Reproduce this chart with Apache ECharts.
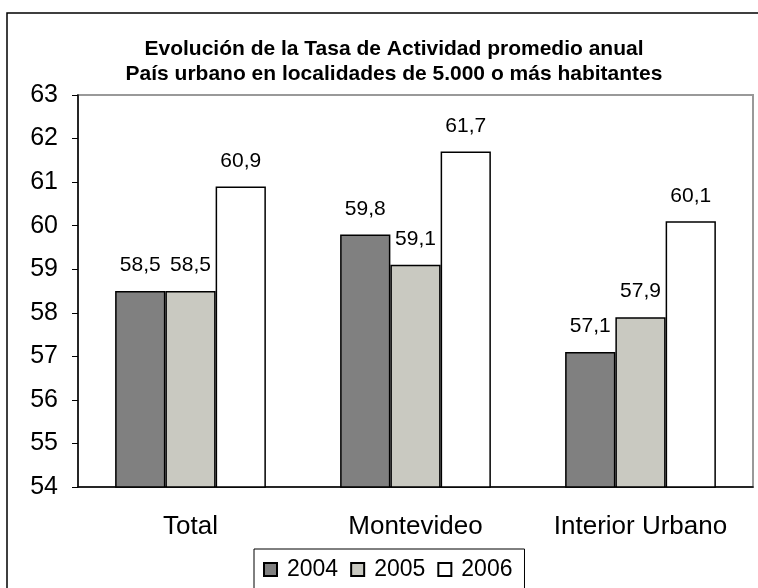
<!DOCTYPE html>
<html>
<head>
<meta charset="utf-8">
<script src="https://cdn.jsdelivr.net/npm/echarts@6/dist/echarts.min.js"></script>
<style>
  html, body { margin: 0; padding: 0; background: #fff; }
  #chart { width: 758px; height: 588px; }
</style>
</head>
<body>
<div id="chart"></div>
<script>
const categories = ["Total", "Montevideo", "Interior Urbano"];
const years = ["2004", "2005", "2006"];
const values2004 = [58.5, 59.8, 57.1];
const values2005 = [58.5, 59.1, 57.9];
const values2006 = [60.9, 61.7, 60.1];
const colors = ["#808080", "#c9c9c1", "#ffffff"];

const font = "'Liberation Sans', Arial, sans-serif";

function makeSeries(name, data, color) {
  return {
    name: name,
    type: "bar",
    data: data,
    barGap: 0,
    barCategoryGap: "33%",
    itemStyle: { color: color, borderColor: "#000", borderWidth: 1.5 },
    label: {
      show: true,
      position: "top",
      distance: 15,
      color: "#000",
      fontFamily: font,
      fontSize: 21,
      formatter: (p) => String(p.value).replace(".", ","),
    },
  };
}

const chart = echarts.init(document.getElementById("chart"));
chart.setOption({
  animation: false,
  title: {
    text: "Evolución de la Tasa de Actividad promedio anual\nPaís urbano en localidades de 5.000 o más habitantes",
    left: 389,
    textAlign: "center",
    top: 32,
    textStyle: {
      fontFamily: font,
      fontSize: 21,
      fontWeight: "bold",
      color: "#000",
      lineHeight: 25,
    },
  },
  grid: {
    left: 78,
    top: 95,
    right: 5,
    bottom: 101,
    show: true,
    borderColor: "#999",
    borderWidth: 2,
  },
  legend: {
    left: 254,
    top: 549,
    data: years,
    icon: "rect",
    itemWidth: 13,
    itemHeight: 13,
    itemGap: 12,
    borderColor: "#000",
    borderWidth: 1,
    padding: [9, 12, 12, 9],
    textStyle: {
      fontFamily: font,
      fontSize: 23,
      color: "#000",
      padding: [0, 0, 0, 5],
    },
  },
  xAxis: {
    type: "category",
    data: categories,
    axisLine: { lineStyle: { color: "#000", width: 1.5 } },
    axisTick: { length: 7, lineStyle: { color: "#000" } },
    axisLabel: {
      interval: 0,
      margin: 27,
      fontFamily: font,
      fontSize: 26,
      color: "#000",
    },
  },
  yAxis: {
    type: "value",
    min: 54,
    max: 63,
    interval: 1,
    splitLine: { show: false },
    axisLine: { show: true, lineStyle: { color: "#000", width: 1.5 } },
    axisTick: { show: true, length: 6, lineStyle: { color: "#000" } },
    axisLabel: {
      margin: 20,
      fontFamily: font,
      fontSize: 25,
      color: "#000",
    },
  },
  graphic: [
    {
      type: "polyline",
      shape: { points: [[7, 588], [7, 13], [758, 13]] },
      style: { stroke: "#000", lineWidth: 1.5, fill: null },
    },
  ],
  series: [
    makeSeries(years[0], values2004, colors[0]),
    makeSeries(years[1], values2005, colors[1]),
    makeSeries(years[2], values2006, colors[2]),
  ],
});
</script>
</body>
</html>
